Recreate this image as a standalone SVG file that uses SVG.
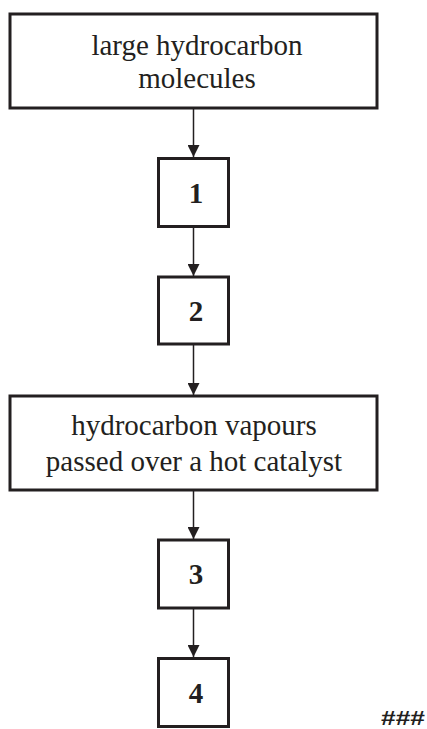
<svg xmlns="http://www.w3.org/2000/svg" width="427" height="729" viewBox="0 0 427 729">
<style>
.box{fill:#fff;stroke:#231f20;stroke-width:3}
.t{font-family:"Liberation Serif","Times New Roman",serif;font-size:29px;fill:#231f20;text-anchor:middle}
.n{font-family:"Liberation Serif","Times New Roman",serif;font-size:29px;font-weight:bold;fill:#231f20;text-anchor:middle}
.c{stroke:#231f20;stroke-width:1.5;fill:none;marker-end:url(#ah)}
</style>
<defs>
<marker id="ah" markerUnits="userSpaceOnUse" markerWidth="14" markerHeight="12" refX="12" refY="6" orient="auto">
<path d="M0,0 L12,6 L0,12 Z" fill="#231f20"/>
</marker>
</defs>
<rect width="427" height="729" fill="#fff"/>
<g id="connectors">
<line class="c" x1="193.5" y1="109" x2="193.5" y2="157"/>
<line class="c" x1="193.5" y1="228" x2="193.5" y2="276"/>
<line class="c" x1="193.5" y1="345" x2="193.5" y2="395"/>
<line class="c" x1="193.5" y1="490" x2="193.5" y2="539"/>
<line class="c" x1="193.5" y1="609" x2="193.5" y2="657"/>
</g>
<g id="n0">
<rect class="box" x="10" y="14" width="367" height="94"/>
<text class="t" x="197" y="55">large hydrocarbon</text>
<text class="t" x="197" y="88">molecules</text>
</g>
<g id="n1">
<rect class="box" x="158.5" y="158.5" width="70" height="68"/>
<text class="n" x="196" y="203">1</text>
</g>
<g id="n2">
<rect class="box" x="158.5" y="277" width="70" height="67"/>
<text class="n" x="196" y="321">2</text>
</g>
<g id="n3">
<rect class="box" x="10" y="396" width="367" height="94"/>
<text class="t" x="194" y="435">hydrocarbon vapours</text>
<text class="t" x="194" y="471">passed over a hot catalyst</text>
</g>
<g id="n4">
<rect class="box" x="158.5" y="540" width="70" height="68"/>
<text class="n" x="196" y="584">3</text>
</g>
<g id="n5">
<rect class="box" x="158.5" y="658.5" width="70" height="68"/>
<text class="n" x="196" y="703">4</text>
</g>
<text x="381" y="725" font-family="Liberation Sans,Arial,sans-serif" font-size="21" font-weight="bold" fill="#231f20" textLength="44" lengthAdjust="spacingAndGlyphs">###</text>
</svg>
